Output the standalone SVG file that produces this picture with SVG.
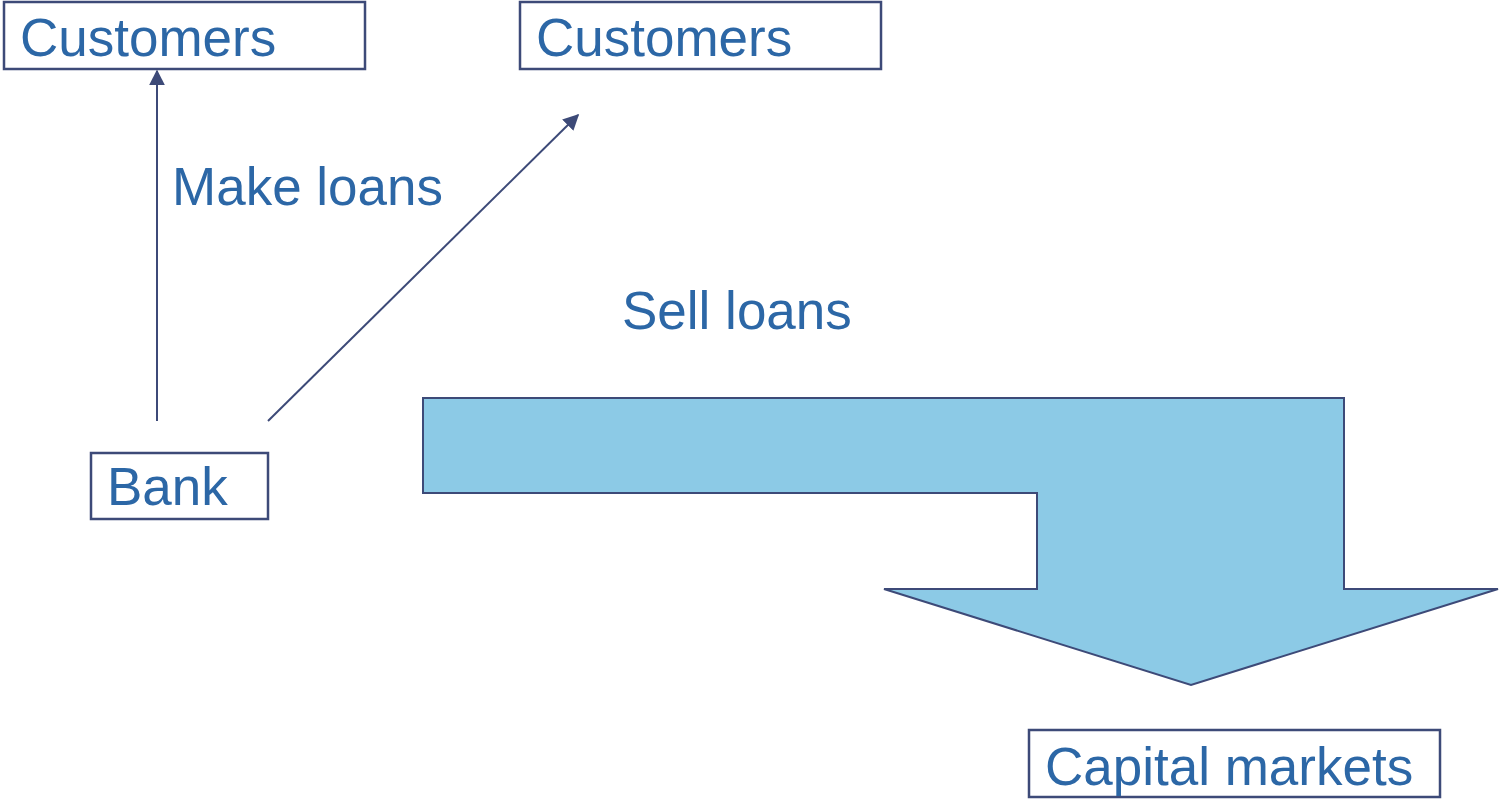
<svg xmlns="http://www.w3.org/2000/svg" width="1500" height="799" viewBox="0 0 1500 799">
<style>
.box{fill:#fff;stroke:#3d4a78;stroke-width:2.5}
.t{font-family:"Liberation Sans",Arial,sans-serif;font-size:53px;fill:#2c67a6}
.c{stroke:#3d4a78;stroke-width:2;fill:none}
</style>
<defs>
<marker id="ah2" viewBox="0 0 10 10" refX="9" refY="5" markerWidth="16" markerHeight="16" markerUnits="userSpaceOnUse" orient="auto"><path d="M0,0L10,5L0,10z" fill="#3d4a78"/></marker>
</defs>
<rect width="1500" height="799" fill="#fff"/>
<g id="customers1"><rect class="box" x="4" y="2" width="361" height="67"/><text class="t" x="20" y="56">Customers</text></g>
<g id="customers2"><rect class="box" x="520" y="2" width="361" height="67"/><text class="t" x="536" y="56">Customers</text></g>
<g id="bank"><rect class="box" x="91" y="453" width="177" height="66"/><text class="t" x="107" y="505">Bank</text></g>
<g id="capital"><rect class="box" x="1029" y="730" width="411" height="67"/><text class="t" x="1045" y="785">Capital markets</text></g>
<g id="connectors">
<line class="c" x1="157" y1="421" x2="157" y2="71" marker-end="url(#ah2)"/>
<line class="c" x1="268" y1="421" x2="578" y2="115" marker-end="url(#ah2)"/>
<polygon points="423,398 1344,398 1344,589 1498,589 1191,685 884,589 1037,589 1037,493 423,493" fill="#8ccae6" stroke="#3d4a78" stroke-width="2"/>
</g>
<text class="t" x="172" y="205">Make loans</text>
<text class="t" x="622" y="329">Sell loans</text>
</svg>
